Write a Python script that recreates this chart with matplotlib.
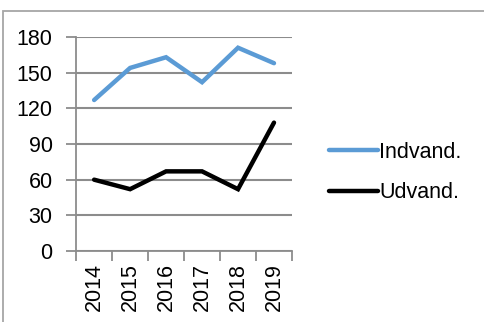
import matplotlib.pyplot as plt
from matplotlib.patches import Rectangle
from matplotlib.ticker import FixedLocator, NullFormatter

years = ['2014', '2015', '2016', '2017', '2018', '2019']
indvand = [127, 154, 163, 142, 171, 158]
udvand = [60, 52, 67, 67, 52, 108]
y_ticks = [0, 30, 60, 90, 120, 150, 180]

plt.rcParams['font.family'] = ['Liberation Sans', 'DejaVu Sans']
fs = 15.5

fig = plt.figure(figsize=(4.85, 3.22), dpi=100)
ax = fig.add_axes([0.157, 0.2205, 0.445, 0.6645])

# outer chart frame
fig.patches.append(Rectangle((3 / 485, -0.1), 1.2, 1 - 11 / 322 + 0.1,
                             transform=fig.transFigure, fill=False,
                             edgecolor='#a6a6a6', linewidth=1.3))

x = range(len(years))
ax.plot(x, indvand, color='#5b9bd5', linewidth=3.2, label='Indvand.',
        solid_capstyle='round', solid_joinstyle='miter', zorder=3)
ax.plot(x, udvand, color='black', linewidth=3.2, label='Udvand.',
        solid_capstyle='round', solid_joinstyle='miter', zorder=3)

ax.set_xlim(-0.5, len(years) - 0.5)
ax.set_ylim(0, 180)
ax.set_yticks(y_ticks)
ax.set_xticks(list(x))
ax.set_xticklabels(years, rotation=90)
ax.xaxis.set_minor_locator(FixedLocator([i - 0.5 for i in range(len(years) + 1)]))
ax.xaxis.set_minor_formatter(NullFormatter())
ax.tick_params(axis='x', which='major', length=0, pad=9, labelsize=fs)
ax.tick_params(axis='x', which='minor', length=7, width=1.3, color='#8c8c8c')
ax.tick_params(axis='y', length=7, width=1.3, color='#8c8c8c', pad=10, labelsize=fs)

ax.grid(axis='y', color='#8c8c8c', linewidth=1.5)
ax.set_axisbelow(True)
for side in ['top', 'right']:
    ax.spines[side].set_visible(False)
for side in ['left', 'bottom']:
    ax.spines[side].set_color('#8c8c8c')
    ax.spines[side].set_linewidth(1.3)

fig.legend(loc='upper left', bbox_to_anchor=(0.638, 0.62), frameon=False,
           fontsize=fs, handlelength=2.3, handletextpad=0.05, labelspacing=0.9)

fig.savefig('out.png', dpi=100)
